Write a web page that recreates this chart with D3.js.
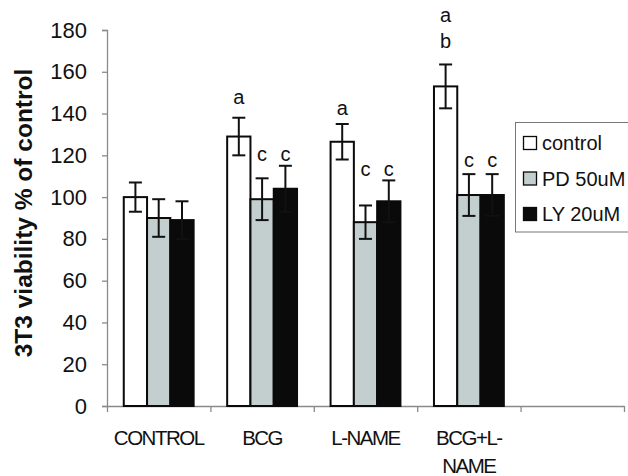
<!DOCTYPE html>
<html>
<head>
<meta charset="utf-8">
<script src="https://cdn.jsdelivr.net/npm/d3@7"></script>
<style>
  html, body { margin: 0; padding: 0; background: #fff; }
  svg { display: block; font-family: "Liberation Sans", Arial, sans-serif; }
</style>
</head>
<body>
<svg id="chart" width="628" height="476"></svg>
<script>
// ---- data ----
const categories = ["CONTROL", "BCG", "L-NAME", "BCG+L-NAME", ""];
const categoryLines = [["CONTROL"], ["BCG"], ["L-NAME"], ["BCG+L-", "NAME"], [""]];
const seriesNames = ["control", "PD 50uM", "LY 20uM"];
const controlValues = [100, 129, 126.5, 153];
const controlErrors = [7, 9, 8.5, 10.5];
const pdValues = [90, 99, 88, 101];
const pdErrors = [9, 10, 8, 10];
const lyValues = [89, 104, 98, 101];
const lyErrors = [9, 11, 10, 10];
// significance letters: [group, series, text, y value]
const sigLetters = [
  [1, 0, "a", 148], [1, 1, "c", 120.5], [1, 2, "c", 120.5],
  [2, 0, "a", 142.5], [2, 1, "c", 113.5], [2, 2, "c", 113.5],
  [3, 0, "a", 187], [3, 0, "b", 174.5], [3, 1, "c", 118], [3, 2, "c", 118]
];
const yTicks = [0, 20, 40, 60, 80, 100, 120, 140, 160, 180];
const colors = ["#ffffff", "#c3cfcf", "#0a0a0a"];

// ---- scales ----
const svg = d3.select("#chart");
const x0 = d3.scaleBand().domain(categories).range([107, 624]).padding(0);
const x1 = d3.scaleBand().domain(seriesNames).range([0, x0.bandwidth()]).paddingInner(0).paddingOuter(0.72);
const y = d3.scaleLinear().domain([0, 180]).range([406, 30]);
const xEdge = d3.scaleLinear().domain([0, categories.length]).range([107, 624]);

const values = [controlValues, pdValues, lyValues];
const errors = [controlErrors, pdErrors, lyErrors];

// ---- axes ----
const yAxis = svg.append("g").attr("transform", "translate(107,0)")
  .call(d3.axisLeft(y).tickValues(yTicks).tickSize(5).tickPadding(15).tickSizeOuter(5));
yAxis.select(".domain").attr("stroke", "#8a8a8a").attr("stroke-width", 1.3);
yAxis.selectAll(".tick line").attr("stroke", "#8a8a8a").attr("stroke-width", 1.3);
yAxis.selectAll(".tick text").attr("font-size", 22).attr("fill", "#111")
  .attr("font-family", "'Liberation Sans', Arial, sans-serif");

const xAxis = svg.append("g").attr("transform", "translate(0,406)")
  .call(d3.axisBottom(xEdge).tickValues(d3.range(categories.length + 1)).tickFormat("").tickSize(6).tickSizeOuter(0));
xAxis.select(".domain").attr("stroke", "#8a8a8a").attr("stroke-width", 1.3);
xAxis.selectAll(".tick line").attr("stroke", "#8a8a8a").attr("stroke-width", 1.3);

// category labels
categoryLines.forEach((lines, i) => {
  const t = svg.append("text")
    .attr("x", x0(categories[i]) + x0.bandwidth() / 2)
    .attr("y", 445)
    .attr("text-anchor", "middle")
    .attr("font-size", 20.5)
    .attr("letter-spacing", "-1.5px")
    .attr("fill", "#111");
  lines.forEach((ln, j) => {
    t.append("tspan").attr("x", x0(categories[i]) + x0.bandwidth() / 2)
      .attr("dy", j === 0 ? 0 : 27.5).text(ln);
  });
});

// y title
svg.append("text")
  .attr("transform", "translate(32," + ((y(0) + y(180)) / 2 - 5) + ") rotate(-90)")
  .attr("text-anchor", "middle")
  .attr("font-size", 24.5)
  .attr("font-weight", "bold")
  .attr("fill", "#111")
  .text("3T3 viability % of control");

// ---- bars ----
const groups = categories.slice(0, 4);
seriesNames.forEach((s, si) => {
  const g = svg.append("g");
  g.selectAll("rect").data(groups).join("rect")
    .attr("x", c => x0(c) + x1(s))
    .attr("y", (c, i) => y(values[si][i]))
    .attr("width", x1.bandwidth())
    .attr("height", (c, i) => y(0) - y(values[si][i]))
    .attr("fill", colors[si])
    .attr("stroke", "#0a0a0a")
    .attr("stroke-width", 2);
});

// ---- error bars ----
const cap = 6.5;
seriesNames.forEach((s, si) => {
  groups.forEach((c, i) => {
    const cx = x0(c) + x1(s) + x1.bandwidth() / 2;
    const hi = y(values[si][i] + errors[si][i]);
    const lo = y(values[si][i] - errors[si][i]);
    const col = "#111";
    svg.append("line").attr("x1", cx).attr("x2", cx).attr("y1", hi).attr("y2", lo)
      .attr("stroke", col).attr("stroke-width", 2);
    svg.append("line").attr("x1", cx - cap).attr("x2", cx + cap).attr("y1", hi).attr("y2", hi)
      .attr("stroke", col).attr("stroke-width", 2);
    svg.append("line").attr("x1", cx - cap).attr("x2", cx + cap).attr("y1", lo).attr("y2", lo)
      .attr("stroke", col).attr("stroke-width", 2);
  });
});

// ---- significance letters ----
svg.append("g").selectAll("text").data(sigLetters).join("text")
  .attr("x", d => x0(categories[d[0]]) + x1(seriesNames[d[1]]) + x1.bandwidth() / 2)
  .attr("y", d => y(d[3]))
  .attr("dy", "0.35em")
  .attr("text-anchor", "middle")
  .attr("font-size", 20)
  .attr("fill", "#111")
  .text(d => d[2]);

// ---- legend ----
const legend = svg.append("g");
legend.append("rect").attr("x", 515.5).attr("y", 122.5).attr("width", 130).attr("height", 109.5)
  .attr("fill", "#fff").attr("stroke", "#777").attr("stroke-width", 1);
seriesNames.forEach((s, si) => {
  const cy = 143 + si * 35.5;
  legend.append("rect").attr("x", 523.5).attr("y", cy - 6.5).attr("width", 13).attr("height", 13)
    .attr("fill", colors[si]).attr("stroke", "#0a0a0a").attr("stroke-width", 1.3);
  legend.append("text").attr("x", 542).attr("y", cy).attr("dy", "0.35em")
    .attr("font-size", 20).attr("fill", "#111").text(s);
});
</script>
</body>
</html>
